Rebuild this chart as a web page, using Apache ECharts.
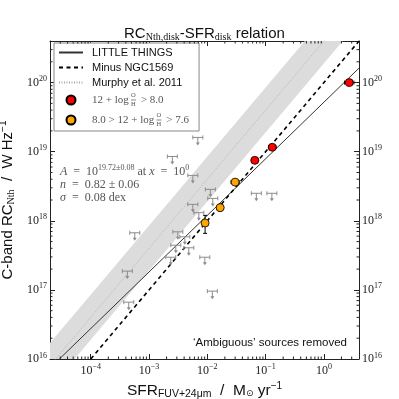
<!DOCTYPE html>
<html>
<head>
<meta charset="utf-8">
<script src="https://cdn.jsdelivr.net/npm/echarts@6/dist/echarts.min.js"></script>
<style>
html, body { margin: 0; padding: 0; background: #fff; }
#main { width: 399px; height: 399px; }
</style>
</head>
<body>
<div id="main"></div>
<script>
// axis limits
var xRange = [2e-5, 4]
var yRange = [1e16, 4e20]

// fitted relations (end points)
var littleThingsX = [2.9e-5, 4.0]
var littleThingsY = [1.0e16, 1.62e20]
var minusX = [1.0e-4, 4.0]
var minusY = [1.0e16, 4.0e20]
var murphyX = [1e-5, 10]
var murphyY = [4.0e15, 4.0e21]
var bandLowY = [1.9e15, 1.9e21]
var bandHighY = [8.5e15, 8.5e21]

// 12 + log O/H > 8.0
var redX = [2.72, 0.130, 0.0653]
var redY = [1.0e20, 1.16e19, 7.5e18]
var redXerr = [0.08, 0.065, 0.06]
var redYerr = [0.03, 0.03, 0.04]

// 8.0 > 12 + log O/H > 7.6
var orangeX = [0.030, 0.0166, 0.00916]
var orangeY = [3.63e18, 1.55e18, 9.3e17]
var orangeXerr = [0.07, 0.06, 0.05]
var orangeYerrLo = [0.04, 0.05, 0.15]
var orangeYerrHi = [0.04, 0.05, 0.11]

// upper limits
var limX = [0.00687, 0.00251, 0.00564, 0.01127, 0.0124, 0.00564, 0.00715, 0.0693, 0.128, 5.69e-4,
  0.00312, 0.00411, 0.00288, 0.00481, 0.00236, 0.00906, 4.24e-4, 0.0122, 4.49e-4]
var limY = [1.61e19, 8.53e18, 4.54e18, 2.85e18, 2.11e18, 1.73e18, 1.31e18, 2.5e18, 2.5e18, 6.71e17,
  6.93e17, 5.87e17, 4.43e17, 4.07e17, 2.97e17, 2.97e17, 1.87e17, 9.6e16, 6.65e16]

var serif = 'Liberation Serif'
var sans = 'Liberation Sans'
var ink = '#222'

function pairs(xs, ys) {
  return xs.map(function (x, i) { return [x, ys[i]] })
}

function powLabel(v) {
  var e = Math.round(Math.log10(v))
  return '{b|10}{e|' + (e < 0 ? '\u2212' + (-e) : e) + '}'
}
var labelRich = {
  b: { fontFamily: serif, fontSize: 12, color: ink },
  e: { fontFamily: serif, fontSize: 8, color: ink, padding: [0, 0, 7, 0] }
}

// minor ticks of the log axes
var minorY = [], minorX = []
for (var d = 15; d <= 20; d++) {
  for (var k = 2; k <= 9; k++) {
    var v = k * Math.pow(10, d)
    if (v > yRange[0] && v < yRange[1]) minorY.push([1, v])
  }
}
for (var d = -5; d <= 0; d++) {
  for (var k = 2; k <= 9; k++) {
    var v = k * Math.pow(10, d)
    if (v > xRange[0] && v < xRange[1]) minorX.push([v, 1e18])
  }
}

function seg(x1, y1, x2, y2, st) {
  return { type: 'line', shape: { x1: x1, y1: y1, x2: x2, y2: y2 }, style: st }
}

function renderMinorY(params, api) {
  var r = params.coordSys
  var p = api.coord([1, api.value(1)])
  var st = { stroke: ink, lineWidth: 1 }
  return { type: 'group', children: [
    seg(r.x, p[1], r.x + 2.5, p[1], st),
    seg(r.x + r.width - 2.5, p[1], r.x + r.width, p[1], st)
  ] }
}
function renderMinorX(params, api) {
  var r = params.coordSys
  var p = api.coord([api.value(0), 1e18])
  var st = { stroke: ink, lineWidth: 1 }
  return { type: 'group', children: [
    seg(p[0], r.y + r.height, p[0], r.y + r.height - 2.5, st),
    seg(p[0], r.y, p[0], r.y + 2.5, st)
  ] }
}

function renderBand(params, api) {
  var pts = [
    api.coord([api.value(0), api.value(1)]),
    api.coord([api.value(3), api.value(4)]),
    api.coord([api.value(3), api.value(5)]),
    api.coord([api.value(0), api.value(2)])
  ]
  return { type: 'polygon', shape: { points: pts }, style: { fill: '#dcdcdc' } }
}

function renderErr(params, api) {
  var x = api.value(0), y = api.value(1)
  var ex = Math.pow(10, api.value(2))
  var l = api.coord([x / ex, y]), r = api.coord([x * ex, y])
  var b = api.coord([x, y / Math.pow(10, api.value(3))])
  var t = api.coord([x, y * Math.pow(10, api.value(4))])
  var st = { stroke: '#000', lineWidth: 1 }
  return { type: 'group', children: [
    seg(l[0], l[1], r[0], r[1], st),
    seg(b[0], b[1], t[0], t[1], st),
    seg(l[0], l[1] - 2, l[0], l[1] + 2, st),
    seg(r[0], r[1] - 2, r[0], r[1] + 2, st),
    seg(b[0] - 2, b[1], b[0] + 2, b[1], st),
    seg(t[0] - 2, t[1], t[0] + 2, t[1], st)
  ] }
}

function renderLimit(params, api) {
  var p = api.coord([api.value(0), api.value(1)])
  var st = { stroke: '#8c8c8c', lineWidth: 1 }
  return { type: 'group', children: [
    seg(p[0] - 5, p[1], p[0] + 5, p[1], st),
    seg(p[0] - 5, p[1] - 2, p[0] - 5, p[1] + 2, st),
    seg(p[0] + 5, p[1] - 2, p[0] + 5, p[1] + 2, st),
    seg(p[0], p[1], p[0], p[1] + 6, st),
    { type: 'polygon', shape: { points: [[p[0] - 2, p[1] + 5], [p[0] + 2, p[1] + 5], [p[0], p[1] + 8]] },
      style: { fill: '#8c8c8c' } }
  ] }
}

var bandData = [[murphyX[0], bandLowY[0], bandHighY[0], murphyX[1], bandLowY[1], bandHighY[1]]]
var redErr = redX.map(function (x, i) { return [x, redY[i], redXerr[i], redYerr[i], redYerr[i]] })
var orangeErr = orangeX.map(function (x, i) {
  return [x, orangeY[i], orangeXerr[i], orangeYerrLo[i], orangeYerrHi[i]]
})

var legendNames = {
  'LITTLE THINGS': '{t|LITTLE THINGS}',
  'Minus NGC1569': '{t|Minus NGC1569}',
  'Murphy et al. 2011': '{t|Murphy et al. 2011}',
  'hiZ': '{m|12 + log\u2009}{fo|O}{fh|H}{fb|}{m|\u2009 > 8.0}',
  'loZ': '{m|8.0 > 12 + log\u2009}{fo|O}{fh|H}{fb|}{m|\u2009 > 7.6}'
}
var noSymbol = { opacity: 0, color: 'rgba(0,0,0,0)', borderWidth: 0 }

var chart = echarts.init(document.getElementById('main'))
var option = {
  animation: false,
  backgroundColor: '#fff',
  title: {
    text: 'RC{s|Nth,disk}-SFR{s|disk} relation',
    left: 119,
    top: 20,
    textStyle: {
      fontFamily: sans, fontSize: 15, fontWeight: 'normal', color: '#111',
      rich: { s: { fontFamily: serif, fontSize: 10, color: '#111', padding: [7, 0, 0, 0] } }
    }
  },
  legend: {
    orient: 'vertical',
    left: 54,
    top: 43,
    padding: [4, 10, 3, 4],
    itemGap: 4,
    itemWidth: 24,
    itemHeight: 9,
    borderColor: '#888',
    borderWidth: 1,
    backgroundColor: '#fff',
    data: [
      { name: 'LITTLE THINGS', itemStyle: noSymbol },
      { name: 'Minus NGC1569', itemStyle: noSymbol },
      { name: 'Murphy et al. 2011', itemStyle: noSymbol },
      'hiZ', 'loZ'
    ],
    formatter: function (name) { return legendNames[name] },
    textStyle: {
      padding: [0, 0, 0, 4],
      rich: {
        t: { fontFamily: sans, fontSize: 11, color: '#111', lineHeight: 12 },
        m: { fontFamily: serif, fontSize: 11, color: '#555', lineHeight: 16 },
        fo: { fontFamily: serif, fontSize: 6.5, color: '#555', width: 0, lineHeight: 7, verticalAlign: 'top' },
        fh: { fontFamily: serif, fontSize: 6.5, color: '#555', width: 0, lineHeight: 7, verticalAlign: 'bottom' },
        fb: { width: 5, height: 0.7, backgroundColor: '#555', verticalAlign: 'middle' }
      }
    }
  },
  grid: { left: 50, right: 40, top: 41, bottom: 40, outerBoundsMode: 'none' },
  xAxis: [{
    type: 'log', min: xRange[0], max: xRange[1], position: 'bottom',
    axisLine: { lineStyle: { color: ink } },
    axisTick: { inside: true, length: 5, lineStyle: { color: ink } },
    splitLine: { show: false },
    axisLabel: { formatter: powLabel, rich: labelRich, margin: 4, showMinLabel: false, showMaxLabel: false },
    name: 'SFR{s|FUV+24\u03bcm}  /  M{o|\u2299} yr{p|\u22121}',
    nameLocation: 'middle',
    nameGap: 16,
    nameTextStyle: {
      fontFamily: sans, fontSize: 15.5, color: '#111',
      rich: {
        s: { fontFamily: sans, fontSize: 10.5, color: '#111', padding: [7, 0, 0, 0] },
        o: { fontFamily: 'DejaVu Sans', fontSize: 9, color: '#111', padding: [6, 0, 0, 0] },
        p: { fontFamily: sans, fontSize: 10, color: '#111', padding: [0, 0, 8, 0] }
      }
    }
  }, {
    type: 'log', min: xRange[0], max: xRange[1], position: 'top',
    axisLine: { lineStyle: { color: ink } },
    axisTick: { inside: true, length: 5, lineStyle: { color: ink } },
    splitLine: { show: false },
    axisLabel: { show: false }
  }],
  yAxis: [{
    type: 'log', min: yRange[0], max: yRange[1], position: 'left',
    axisLine: { lineStyle: { color: ink } },
    axisTick: { inside: true, length: 5, lineStyle: { color: ink } },
    splitLine: { show: false },
    axisLabel: { formatter: powLabel, rich: labelRich, margin: 3, showMaxLabel: false },
    name: 'C-band RC{s|Nth}  /  W Hz{p|\u22121}',
    nameLocation: 'middle',
    nameRotate: 90,
    nameGap: 15,
    nameTextStyle: {
      fontFamily: sans, fontSize: 15, color: '#111',
      rich: {
        s: { fontFamily: serif, fontSize: 10, color: '#111', padding: [7, 0, 0, 0] },
        p: { fontFamily: sans, fontSize: 10, color: '#111', padding: [0, 0, 8, 0] }
      }
    }
  }, {
    type: 'log', min: yRange[0], max: yRange[1], position: 'right',
    axisLine: { lineStyle: { color: ink } },
    axisTick: { inside: true, length: 5, lineStyle: { color: ink } },
    splitLine: { show: false },
    axisLabel: { formatter: powLabel, rich: labelRich, margin: 3, showMaxLabel: false }
  }],
  graphic: [{
    type: 'text', left: 60, top: 164, silent: true,
    style: {
      text: '{i|A}{r|  =  10}{p|19.72\u00b10.08}{r| at }{i|x}{r|  =  10}{p|0}\n' +
        '{i|n}{r|  =  0.82 \u00b1 0.06}\n' +
        '{i|\u03c3}{r|  =  0.08 dex}',
      rich: {
        r: { fontFamily: serif, fontSize: 12, fill: '#555', lineHeight: 12.5 },
        i: { fontFamily: serif, fontStyle: 'italic', fontSize: 12, fill: '#555', lineHeight: 12.5 },
        p: { fontFamily: serif, fontSize: 8, fill: '#555', padding: [0, 0, 7, 0] }
      }
    }
  }, {
    type: 'text', right: 52, top: 337, silent: true,
    style: { text: '\u2018Ambiguous\u2019 sources removed', font: '11.5px "Liberation Sans"', fill: '#111' }
  }],
  series: [
    {
      type: 'custom', name: 'band', silent: true, clip: true, z: 1,
      renderItem: renderBand, data: bandData,
      encode: { x: [0, 3], y: [1, 2, 4, 5] }
    },
    {
      type: 'custom', name: 'minorY', silent: true, z: 10,
      renderItem: renderMinorY, data: minorY
    },
    {
      type: 'custom', name: 'minorX', silent: true, z: 10,
      renderItem: renderMinorX, data: minorX
    },
    {
      type: 'line', name: 'Murphy et al. 2011', data: pairs(murphyX, murphyY), symbol: 'none', z: 2,
      lineStyle: { color: '#aaa', width: 0.8, type: [1, 1.5] }
    },
    {
      type: 'line', name: 'LITTLE THINGS', data: pairs(littleThingsX, littleThingsY), symbol: 'none', z: 3,
      lineStyle: { color: '#333', width: 1 }
    },
    {
      type: 'line', name: 'Minus NGC1569', data: pairs(minusX, minusY), symbol: 'none', z: 3,
      lineStyle: { color: '#000', width: 1.6, type: [4, 3.5] }
    },
    {
      type: 'custom', name: 'limits', silent: true, z: 4,
      renderItem: renderLimit, data: pairs(limX, limY)
    },
    {
      type: 'custom', name: 'redErr', silent: true, z: 5,
      renderItem: renderErr, data: redErr
    },
    {
      type: 'custom', name: 'orangeErr', silent: true, z: 5,
      renderItem: renderErr, data: orangeErr
    },
    {
      type: 'scatter', name: 'hiZ', data: pairs(redX, redY), symbolSize: 8, z: 6,
      itemStyle: { color: '#ff0000', borderColor: '#000', borderWidth: 0.8, opacity: 1 }
    },
    {
      type: 'scatter', name: 'loZ', data: pairs(orangeX, orangeY), symbolSize: 8, z: 6,
      itemStyle: { color: '#ffa500', borderColor: '#000', borderWidth: 0.8, opacity: 1 }
    }
  ]
}
chart.setOption(option)
</script>
</body>
</html>
